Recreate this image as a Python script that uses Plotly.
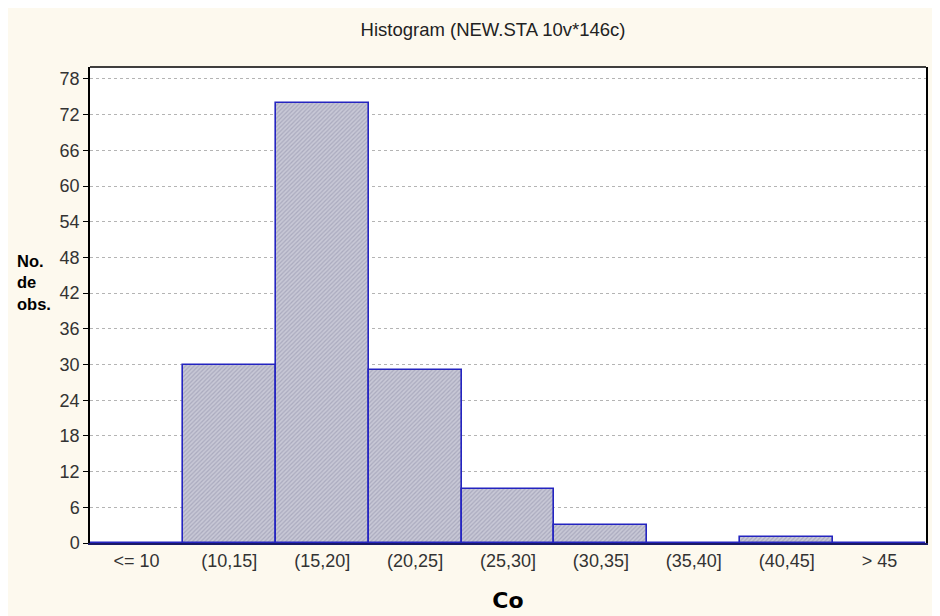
import plotly.graph_objects as go

categories = ["<= 10", "(10,15]", "(15,20]", "(20,25]", "(25,30]", "(30,35]", "(35,40]", "(40,45]", "> 45"]
counts = [0, 30, 74, 29, 9, 3, 0, 1, 0]
y_ticks = list(range(0, 79, 6))

fig = go.Figure()
fig.add_trace(go.Bar(
    x=categories, y=counts, width=1.0,
    marker=dict(
        color="#B4B4C6",
        line=dict(color="#2424C0", width=1.6),
        pattern=dict(shape="/", fgcolor="#8C8CA6", bgcolor="#C8C8D6", size=3, solidity=0.4),
    ),
    showlegend=False,
))

L, R, T, B = 82, 22, 59, 81
W, H = 940 - L - R, 616 - T - B

def px_x(p):
    return (p - L) / W

def px_y(p):
    return (616 - B - p) / H

fig.update_layout(
    width=940, height=616,
    margin=dict(l=L, r=R, t=T, b=B, pad=0),
    paper_bgcolor="#FDF9EE",
    plot_bgcolor="white",
    font=dict(family="Liberation Sans, Arial, sans-serif", size=18, color="#333333"),
    title=dict(text="Histogram (NEW.STA 10v*146c)", x=px_x(485), xref="paper", xanchor="center",
               y=1 - 22 / 616, yanchor="middle", font=dict(size=18.5, color="#222222")),
    bargap=0,
    shapes=[
        dict(type="line", xref="paper", yref="paper", x0=0, x1=1, y0=1, y1=1,
             line=dict(color="black", width=1.5)),
    ],
    annotations=[
        dict(text="<b>No.<br>de<br>obs.</b>", xref="paper", yref="paper", x=px_x(7), y=px_y(274),
             xanchor="left", yanchor="middle", align="left", showarrow=False,
             font=dict(family="Liberation Sans, Arial, sans-serif", size=16.5, color="black")),
    ],
)

fig.update_xaxes(
    type="category", range=[-0.5, 8.5],
    showgrid=False, showline=True, linecolor="#1A1A66", linewidth=2, mirror=False,
    ticks="", tickfont=dict(size=18, color="#333333"),
    title=dict(text="<b>Co</b>", font=dict(family="DejaVu Sans, sans-serif", size=22, color="black"), standoff=23),
)
fig.update_yaxes(
    range=[0, 80], tickvals=y_ticks, showgrid=True, gridcolor="#B4B4B4", griddash="dot", gridwidth=1,
    showline=True, linecolor="black", linewidth=1.5, mirror=True,
    ticks="outside", ticklen=5, tickcolor="black", tickfont=dict(size=18, color="#333333"),
    zeroline=False,
)

fig.write_html("out.html")
